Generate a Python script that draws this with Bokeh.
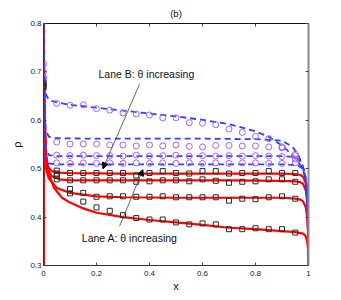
from bokeh.plotting import figure
from bokeh.models import Range1d, LinearAxis, FixedTicker, Label, Arrow, NormalHead
from bokeh.embed import file_html
from bokeh.resources import INLINE

# ---------------- data ----------------
x_ticks = [0, 0.2, 0.4, 0.6, 0.8, 1]
x_tick_labels = ["0", "0.2", "0.4", "0.6", "0.8", "1"]
y_ticks = [0.3, 0.4, 0.5, 0.6, 0.7, 0.8]
y_tick_labels = ["0.3", "0.4", "0.5", "0.6", "0.7", "0.8"]

# simulation sample positions
x_sim = [0.0, 0.05, 0.10, 0.15, 0.20, 0.25, 0.30, 0.35, 0.40, 0.45,
         0.50, 0.55, 0.60, 0.65, 0.70, 0.75, 0.80, 0.85, 0.90, 0.95]

# Lane A simulation (squares)
sqA1 = [0.678, 0.496, 0.491, 0.491, 0.491, 0.491, 0.491, 0.486, 0.491, 0.495,
        0.491, 0.490, 0.495, 0.495, 0.490, 0.491, 0.491, 0.495, 0.491, 0.491]
sqA2 = [0.675, 0.490, 0.476, 0.476, 0.476, 0.476, 0.476, 0.473, 0.474, 0.476,
        0.476, 0.474, 0.478, 0.475, 0.471, 0.473, 0.474, 0.478, 0.478, 0.473]
sqA3 = [0.671, 0.485, 0.458, 0.450, 0.442, 0.443, 0.443, 0.442, 0.442, 0.443,
        0.441, 0.441, 0.441, 0.441, 0.434, 0.438, 0.437, 0.441, 0.443, 0.438]
sqA4 = [0.668, 0.478, 0.449, 0.432, 0.420, 0.413, 0.404, 0.398, 0.395, 0.395,
        0.389, 0.385, 0.387, 0.385, 0.375, 0.375, 0.377, 0.375, 0.375, 0.368]

# Lane B simulation (circles)
ciB1 = [0.717, 0.635, 0.631, 0.632, 0.624, 0.621, 0.615, 0.613, 0.611, 0.605,
        0.605, 0.595, 0.594, 0.591, 0.582, 0.575, 0.567, 0.562, 0.545, 0.527]
ciB2 = [0.689, 0.555, 0.551, 0.551, 0.551, 0.549, 0.549, 0.547, 0.549, 0.547,
        0.549, 0.546, 0.545, 0.548, 0.548, 0.547, 0.547, 0.545, 0.543, 0.530]
ciB3 = [0.700, 0.528, 0.527, 0.528, 0.527, 0.527, 0.526, 0.528, 0.526, 0.527,
        0.528, 0.526, 0.527, 0.526, 0.527, 0.526, 0.527, 0.526, 0.525, 0.520]
ciB4 = [0.686, 0.512, 0.511, 0.512, 0.511, 0.512, 0.511, 0.512, 0.511, 0.512,
        0.511, 0.512, 0.511, 0.512, 0.511, 0.512, 0.512, 0.511, 0.511, 0.512]

# Lane A theory (red solid)
lineA1_x = [0, 0, 0.003, 0.008, 0.015, 0.03, 0.06, 0.1, 0.3, 0.5, 0.7, 0.9,
            0.95, 0.97, 0.98, 0.99, 0.995, 0.998, 1]
lineA1_y = [0.3, 0.8, 0.6, 0.53, 0.505, 0.495, 0.492, 0.491, 0.49, 0.49, 0.49, 0.49,
            0.489, 0.487, 0.483, 0.47, 0.445, 0.4, 0.3]
lineA2_x = [0, 0, 0.003, 0.008, 0.015, 0.03, 0.06, 0.1, 0.3, 0.5, 0.7, 0.9,
            0.95, 0.97, 0.98, 0.99, 0.995, 0.998, 1]
lineA2_y = [0.3, 0.8, 0.6, 0.53, 0.5, 0.485, 0.478, 0.476, 0.476, 0.476, 0.476, 0.475,
            0.474, 0.472, 0.468, 0.455, 0.43, 0.39, 0.3]
lineA3_x = [0, 0, 0.004, 0.01, 0.02, 0.05, 0.1, 0.2, 0.3, 0.5, 0.7, 0.9,
            0.95, 0.97, 0.98, 0.99, 0.995, 0.998, 1]
lineA3_y = [0.3, 0.8, 0.6, 0.5, 0.48, 0.46, 0.45, 0.443, 0.441, 0.44, 0.44, 0.44,
            0.438, 0.436, 0.432, 0.42, 0.4, 0.37, 0.3]
lineA4_x = [0, 0, 0.004, 0.01, 0.02, 0.04, 0.07, 0.1, 0.15, 0.2, 0.3, 0.4, 0.5,
            0.6, 0.7, 0.8, 0.9, 0.95, 0.98, 0.99, 0.995, 0.998, 1]
lineA4_y = [0.3, 0.8, 0.62, 0.53, 0.49, 0.46, 0.44, 0.43, 0.418, 0.409, 0.4, 0.394, 0.389,
            0.384, 0.378, 0.375, 0.371, 0.369, 0.366, 0.36, 0.35, 0.335, 0.3]

# Lane B theory (blue dashed)
lineB1_x = [0, 0.003, 0.008, 0.02, 0.05, 0.1, 0.2, 0.3, 0.4, 0.5, 0.6, 0.7, 0.75,
            0.8, 0.85, 0.9, 0.935, 0.96, 0.979, 0.992, 0.998, 1]
lineB1_y = [0.8, 0.7, 0.655, 0.642, 0.637, 0.632, 0.626, 0.62, 0.614, 0.608, 0.601, 0.592, 0.585,
            0.577, 0.566, 0.548, 0.53, 0.515, 0.5, 0.47, 0.4, 0.3]
lineB2_x = [0, 0.003, 0.008, 0.02, 0.05, 0.2, 0.4, 0.6, 0.8, 0.9, 0.94, 0.96,
            0.979, 0.992, 0.998, 1]
lineB2_y = [0.8, 0.65, 0.58, 0.566, 0.563, 0.562, 0.562, 0.562, 0.561, 0.558, 0.545, 0.53,
            0.505, 0.47, 0.4, 0.3]
lineB3_x = [0, 0.003, 0.008, 0.02, 0.05, 0.3, 0.6, 0.9, 0.95, 0.97, 0.985, 0.995, 1]
lineB3_y = [0.8, 0.62, 0.545, 0.528, 0.526, 0.526, 0.526, 0.526, 0.524, 0.515, 0.495, 0.46, 0.3]
lineB4_x = [0, 0.003, 0.008, 0.02, 0.05, 0.3, 0.6, 0.9, 0.96, 0.98, 0.99, 0.997, 1]
lineB4_y = [0.8, 0.6, 0.525, 0.511, 0.509, 0.509, 0.509, 0.509, 0.507, 0.5, 0.48, 0.43, 0.3]

title_text = "(b)"
x_label = "x"
y_label = "\u03c1"
labelB_text = "Lane B: \u03b8 increasing"
labelA_text = "Lane A: \u03b8 increasing"

# ---------------- figure ----------------
FONT = "Liberation Sans"
RED = "#ff0000"
BLUE = "#3040ff"
PURPLE = "#b060f8"
SQ = "#2a2a2a"

p = figure(width=332, height=294, output_backend="svg", toolbar_location=None,
           x_range=Range1d(0, 1), y_range=Range1d(0.3, 0.8),
           min_border_left=43, min_border_right=24, min_border_top=14, min_border_bottom=26)
p.grid.visible = False
p.outline_line_color = "#222222"
p.outline_line_width = 1
p.background_fill_color = "white"
p.border_fill_color = "white"

p.title.text = title_text
p.title.align = "center"
p.title.text_font = FONT
p.title.text_font_size = "9.5px"
p.title.text_font_style = "normal"
p.title.text_color = "#111111"

def style_axis(ax, ticks, labels):
    ax.ticker = FixedTicker(ticks=ticks)
    ax.major_label_overrides = dict(zip(ticks, labels))
    ax.minor_tick_line_color = None
    ax.major_tick_in = 3
    ax.major_tick_out = 0
    ax.major_tick_line_color = "#444444"
    ax.axis_line_color = "#333333"
    ax.major_label_text_font = FONT
    ax.major_label_text_font_size = "8px"
    ax.major_label_text_color = "#222222"
    ax.axis_label_text_font = FONT
    ax.axis_label_text_font_size = "11px"
    ax.axis_label_text_font_style = "normal"
    ax.axis_label_text_color = "#111111"

xa = p.xaxis[0]
style_axis(xa, x_ticks, x_tick_labels)
xa.axis_label = x_label
xa.major_label_standoff = 5
xa.axis_label_standoff = 1

ya = p.yaxis[0]
style_axis(ya, y_ticks, y_tick_labels)
ya.axis_label = y_label
ya.major_label_standoff = 2
ya.axis_label_standoff = 4

top = LinearAxis()
p.add_layout(top, "above")
style_axis(top, x_ticks, [""] * len(x_ticks))
top.axis_line_color = "#111111"
top.major_label_standoff = 0

right = LinearAxis()
p.add_layout(right, "right")
style_axis(right, y_ticks, [""] * len(y_ticks))
right.axis_line_color = "#8a8a8a"
right.axis_line_width = 2
right.major_label_standoff = 0

# theory lines
for lx, ly in [(lineA1_x, lineA1_y), (lineA2_x, lineA2_y), (lineA3_x, lineA3_y), (lineA4_x, lineA4_y)]:
    p.line(lx, ly, line_color=RED, line_width=2.2)
for lx, ly in [(lineB1_x, lineB1_y), (lineB2_x, lineB2_y), (lineB3_x, lineB3_y), (lineB4_x, lineB4_y)]:
    p.line(lx, ly, line_color=BLUE, line_width=1.8, line_dash="6 4")

# simulations
for cy in [ciB1, ciB2, ciB3, ciB4]:
    p.scatter(x_sim, cy, marker="circle", size=6, fill_color=None,
              line_color=PURPLE, line_width=1)
for sy in [sqA1, sqA2, sqA3, sqA4]:
    p.scatter(x_sim, sy, marker="square", size=5, fill_color=None,
              line_color=SQ, line_width=1)

# annotations
p.add_layout(Label(x=0.2075, y=0.696, text=labelB_text, text_font=FONT,
                   text_font_size="10.5px", text_baseline="middle", text_align="left",
                   text_color="#111111"))
p.add_layout(Label(x=0.1445, y=0.357, text=labelA_text, text_font=FONT,
                   text_font_size="10.5px", text_baseline="middle", text_align="left",
                   text_color="#111111"))
p.add_layout(Arrow(x_start=0.362, y_start=0.674, x_end=0.224, y_end=0.5,
                   line_color="#444444", line_width=0.8,
                   end=NormalHead(size=6, fill_color="black", line_color="black")))
p.add_layout(Arrow(x_start=0.287, y_start=0.381, x_end=0.375, y_end=0.498,
                   line_color="#444444", line_width=0.8,
                   end=NormalHead(size=6, fill_color="black", line_color="black")))

open("out.html", "w").write(file_html(p, INLINE))
